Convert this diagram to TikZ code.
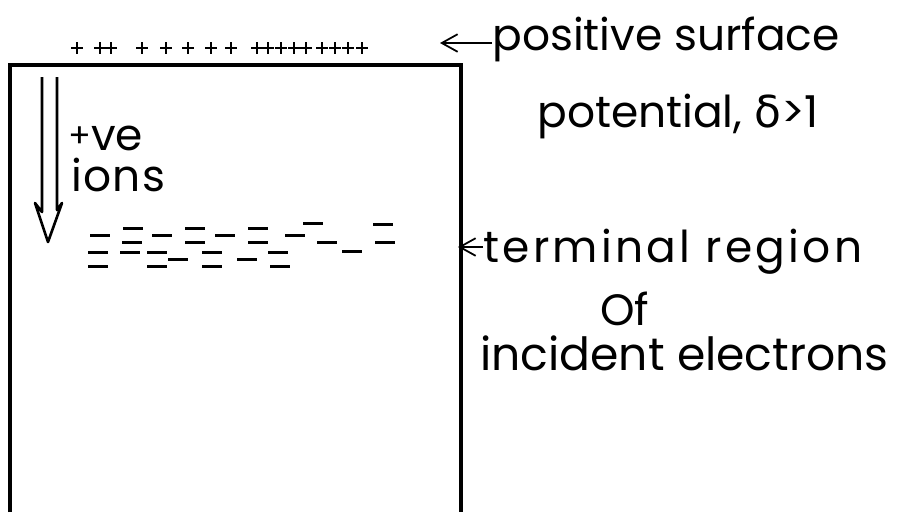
\documentclass[tikz,border=0pt]{standalone}
\usepackage{fontspec}
\setmainfont{Poppins}
\newfontfamily\grk{DejaVu Sans}
\usetikzlibrary{arrows.meta, positioning, calc}

\begin{document}
\begin{tikzpicture}[x=0.02cm, y=-0.02cm, >={Straight Barb[length=9pt, width=10pt]},
    every node/.style={inner sep=0pt, font=\fontsize{25}{28}\selectfont},
    label text/.style={anchor=base west}]
    \useasboundingbox (0,0) rectangle (897,512);

    % Sample (open at the bottom)
    \draw[line width=2pt] (10,512) -- (10,65) -- (461,65) -- (461,512);

    % Surface charge (y=48)
    \foreach \x [count=\i] in {77,100,111,142,166,188,211,231,257,268,281,294,306,322,335,348,362}
        \draw[line width=1.2pt] (\x-6,48) -- (\x+6,48) (\x,42) -- (\x,54);

    % Ion drift arrow
    \draw[line width=1.5pt, line join=round] (42,77) -- (42,212) -- (35,203) -- (48,242)
        -- (62,203) -- (57,210) -- (57,77);
    \node[label text, text depth=0pt] (ve) at (68,150)
        {{\fontsize{19}{20}\selectfont\raisebox{1.5pt}{+}}ve};
    \node[label text] (ions) at (71,191) {\addfontfeature{LetterSpace=3}ions};

    % Trapped electrons (x=85..400, y=215..265)
    \foreach \x/\y in {313/223, 383/224, 133/228, 195/228, 258/228,
                       100/235, 162/235, 225/235, 295/235,
                       132/242, 195/242, 258/242, 327/242, 385/242,
                       352/251, 98/252, 130/252, 157/252, 212/252, 278/252,
                       178/259, 247/259, 98/266, 157/266, 212/266, 280/266}
        \draw[line width=1.7pt] (\x-10,\y) -- (\x+10,\y);

    % Labels
    \node[label text] (surf) at (492,50) {positive surface};
    \node[label text] (pot) at (537,127) {potential, {\grk δ}>1};
    \node[label text] (term) at (483,262) {\addfontfeature{LetterSpace=7.5}terminal region};
    \node[label text] (of) at (600,325) {Of};
    \node[label text, font=\fontsize{26}{28}\selectfont] (inc) at (480,370) {incident electrons};

    \coordinate (surfTip) at (440,43);
    \coordinate (termTip) at (458,247);

    % Arrows
    \draw[->, line width=1pt] (surf.base west) ++(0,-7) -- (surfTip);
    \draw[->, line width=1pt] (term.base west) ++(0,-15) -- (termTip);
\end{tikzpicture}
\end{document}
